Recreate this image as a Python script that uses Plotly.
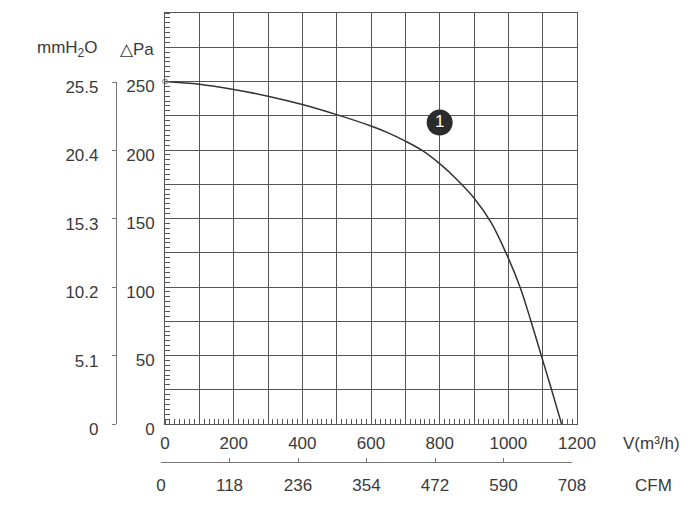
import plotly.graph_objects as go

# fan curve (m³/h vs Pa)
FLOW_M3H = [0, 100, 200, 300, 400, 500, 600, 650, 700, 750, 800, 850, 900, 950, 993, 1034, 1066, 1096, 1126, 1155]
PRESSURE_PA = [250, 248, 244.2, 239.3, 233.2, 225.8, 217.5, 212.5, 206.5, 199.5, 190, 178.5, 165, 147, 125, 100, 75, 50, 25, 0]

X_GRID = list(range(0, 1300, 100))
X_LABELS = [str(v) if v % 200 == 0 else "" for v in X_GRID]
Y_GRID = list(range(0, 325, 25))
Y_LABELS = [str(v) if v % 50 == 0 and v <= 250 else "" for v in Y_GRID]
CFM_TICKS = [0, 118, 236, 354, 472, 590, 708]
MMH2O_TICKS = [0, 5.1, 10.2, 15.3, 20.4, 25.5]
MMH2O_LABELS = ["0", "5.1", "10.2", "15.3", "20.4", "25.5"]

BADGE_X = [800]
BADGE_Y = [220]
BADGE_TEXT = ["1"]

GRID = "#555555"
TEXT = "#3a3a3a"
FONT = "Liberation Sans, Arial, sans-serif"

# the page body adds an 8px margin, so everything is laid out 8px up/left
OFF = 8
W, H = 700 - OFF, 518 - OFF
ML, MT = 110 - OFF, 13 - OFF
MR = W - (577 - OFF)
MB = H - (468 - OFF)
PW = W - ML - MR
PH = H - MT - MB


def px_x(px: float) -> float:
    return (px - OFF - ML) / PW


def px_y(py: float) -> float:
    return (H - MB - (py - OFF)) / PH


fig = go.Figure()

fig.add_trace(
    go.Scatter(
        x=FLOW_M3H,
        y=PRESSURE_PA,
        mode="lines",
        line=dict(color="#333333", width=1.5, shape="spline", smoothing=1.0),
        hoverinfo="skip",
    )
)
fig.add_trace(
    go.Scatter(
        x=FLOW_M3H[:1],
        y=PRESSURE_PA[:1],
        mode="markers",
        marker=dict(symbol="circle-open", size=5, color="#888888", line=dict(width=1)),
        cliponaxis=False,
    )
)
fig.add_trace(
    go.Scatter(
        x=BADGE_X,
        y=BADGE_Y,
        mode="markers+text",
        text=BADGE_TEXT,
        textposition="middle center",
        textfont=dict(color="white", size=17, family=FONT),
        marker=dict(size=26, color="#2b2b2b"),
    )
)
# empty trace so the CFM / mmH2O axes get drawn
fig.add_trace(go.Scatter(x=[], y=[], xaxis="x2", yaxis="y2"))

fig.update_layout(
    width=W,
    height=H,
    margin=dict(l=ML, r=MR, t=MT, b=MB, autoexpand=False),
    paper_bgcolor="white",
    plot_bgcolor="rgba(0,0,0,0)",
    showlegend=False,
    font=dict(family=FONT, size=17, color=TEXT),
    xaxis=dict(
        domain=[px_x(165), 1],
        range=[0, 1200],
        tickmode="array",
        tickvals=X_GRID,
        ticktext=X_LABELS,
        showgrid=True,
        gridcolor=GRID,
        gridwidth=1,
        showline=True,
        linecolor=GRID,
        linewidth=1,
        mirror=True,
        ticks="",
        zeroline=False,
        ticklabelstandoff=4,
        minor=dict(ticks="inside", ticklen=5, tickcolor=GRID, dtick=100 / 7, tick0=0, showgrid=False),
        anchor="y",
    ),
    yaxis=dict(
        domain=[px_y(424), 1],
        range=[0, 300],
        tickmode="array",
        tickvals=Y_GRID,
        ticktext=Y_LABELS,
        showgrid=True,
        gridcolor=GRID,
        gridwidth=1,
        showline=True,
        linecolor=GRID,
        linewidth=1,
        mirror=True,
        ticks="",
        zeroline=False,
        ticklabelstandoff=6,
        ticklabelshift=5,
        minor=dict(ticks="inside", ticklen=5, tickcolor=GRID, dtick=25 / 7, tick0=0, showgrid=False),
        anchor="x",
    ),
    xaxis2=dict(
        domain=[px_x(161), px_x(572)],
        range=[0, 708],
        anchor="free",
        position=px_y(462),
        side="bottom",
        tickmode="array",
        tickvals=CFM_TICKS,
        ticks="inside",
        ticklen=4,
        tickcolor="#777777",
        showline=True,
        linecolor="#777777",
        linewidth=1.2,
        showgrid=False,
        zeroline=False,
        ticklabelstandoff=7,
    ),
    yaxis2=dict(
        domain=[px_y(424), px_y(82)],
        range=[0, 25.5],
        anchor="free",
        position=px_x(116),
        side="left",
        tickmode="array",
        tickvals=MMH2O_TICKS,
        ticktext=MMH2O_LABELS,
        ticks="outside",
        ticklen=4,
        tickcolor="#777777",
        showline=True,
        linecolor="#777777",
        linewidth=1.2,
        showgrid=False,
        zeroline=False,
        ticklabelstandoff=10,
        ticklabelshift=5,
    ),
)

for text, cx, cy in [
    ("mmH<sub>2</sub>O", 67, 49),
    ("△Pa", 137, 49),
    ("V(m³/h)", 651, 443),
    ("CFM", 653, 485),
]:
    fig.add_annotation(
        text=text,
        x=px_x(cx),
        y=px_y(cy),
        xref="paper",
        yref="paper",
        xanchor="center",
        yanchor="middle",
        showarrow=False,
        font=dict(family=FONT, size=17, color=TEXT),
    )

fig.write_html("out.html")
